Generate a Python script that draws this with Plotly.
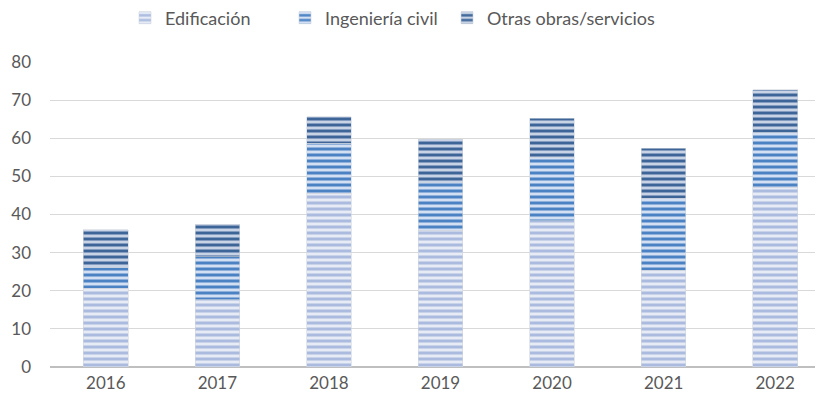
import plotly.graph_objects as go

years = ["2016", "2017", "2018", "2019", "2020", "2021", "2022"]
edificacion = [20.7, 17.6, 45.6, 35.9, 38.3, 25.4, 47.2]
ingenieria = [5.4, 11.3, 13.1, 12.4, 16.7, 18.9, 14.2]
otras = [9.9, 8.6, 6.9, 11.5, 10.3, 13.1, 11.3]

series = [
    ("Edificación", edificacion, "#e6ebf6", "#aabbdf", "legend", 117),
    ("Ingeniería civil", ingenieria, "#d3dff2", "#4a82c4", "legend2", 277),
    ("Otras obras/servicios", otras, "#c8d3e6", "#3d6598", "legend3", 439),
]

fig = go.Figure()
legends = {}
for name, vals, bg, fg, leg, lx in series:
    fig.add_trace(go.Bar(
        name=name, x=years, y=vals, legend=leg, showlegend=True,
        marker=dict(
            color=bg,
            line=dict(width=0.6, color="#d0d5de"),
            pattern=dict(shape="-", size=6, solidity=0.5, fgcolor=fg, bgcolor=bg,
                         fillmode="replace"),
        ),
    ))
    legends[leg] = dict(orientation="h", x=lx / 823, xanchor="left", xref="container",
                        y=1 - 10 / 404, yanchor="middle", yref="container",
                        bgcolor="rgba(0,0,0,0)",
                        font=dict(size=18, color="#595959"), itemwidth=30)

fig.update_layout(
    barmode="stack",
    bargap=0.6,
    width=823, height=404,
    margin=dict(l=42, r=0, t=54, b=45, autoexpand=False),
    plot_bgcolor="white",
    paper_bgcolor="white",
    font=dict(family="Lato", size=17, color="#595959"),
    **legends,
)
fig.update_xaxes(range=[-0.5, 6.5], showgrid=False, ticks="", automargin=False,
                 ticklabelstandoff=4, tickfont=dict(size=17))
fig.update_yaxes(range=[0, 80], dtick=10, gridcolor="#d9d9d9", gridwidth=1,
                 zeroline=True, zerolinecolor="#bfbfbf", zerolinewidth=2, automargin=False,
                 ticks="", ticklabelstandoff=18, tickfont=dict(size=17))

fig.write_html("out.html")
